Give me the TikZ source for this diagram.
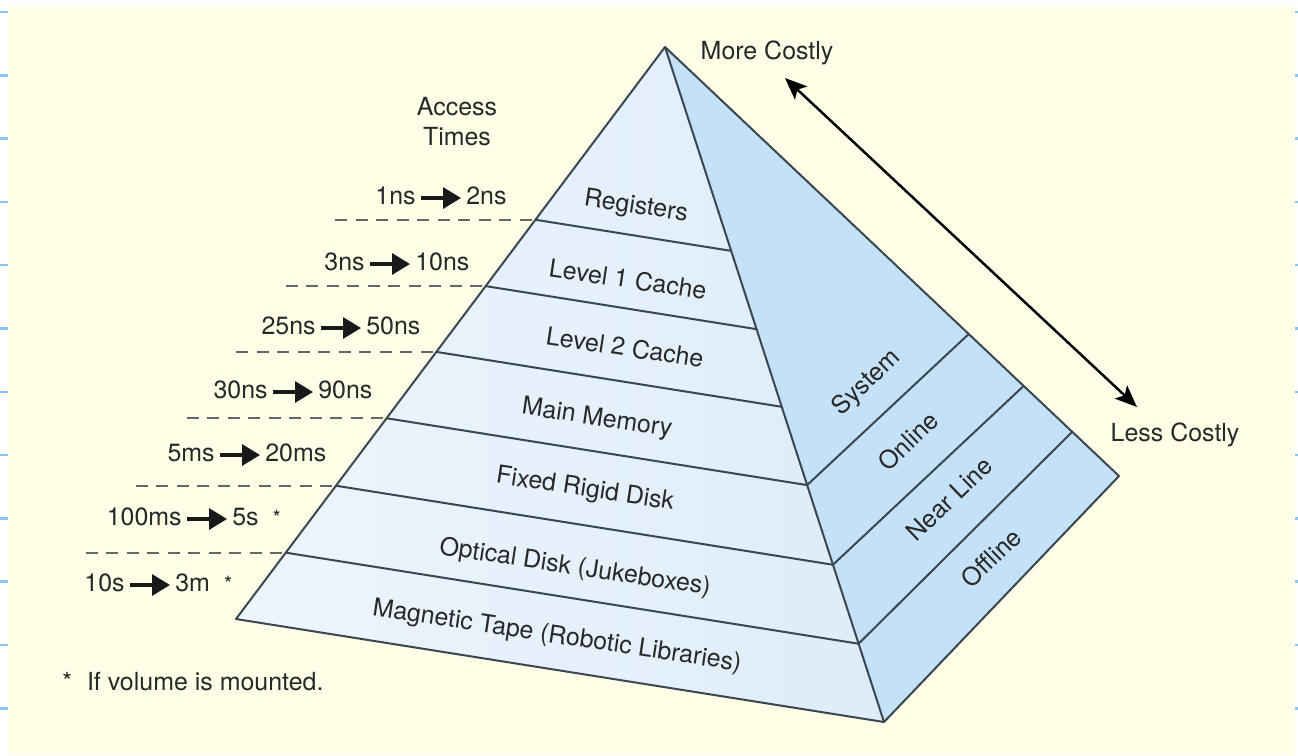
\documentclass[tikz,border=0pt]{standalone}
\usepackage{fontspec}
\setmainfont{TeX Gyre Heros}
\usetikzlibrary{arrows.meta, positioning, calc}
\definecolor{paper}{RGB}{255,255,232}
\definecolor{ruler}{RGB}{142,196,245}
\definecolor{frontlight}{RGB}{238,245,252}
\definecolor{frontdark}{RGB}{222,236,249}
\definecolor{sideface}{RGB}{196,225,248}
\definecolor{ridge}{RGB}{58,70,80}
\definecolor{ink}{RGB}{40,40,40}
\newcommand{\mnt}{\hspace{0.28cm}{\fontsize{12pt}{14pt}\selectfont *}}
\tikzset{
    txt/.style={font=\fontsize{14.2pt}{17pt}\selectfont, text=ink},
    tier/.style={txt, inner sep=0pt, rotate=-8.6},
    store/.style={txt, inner sep=0pt, rotate=44},
    acc/.style={txt, inner xsep=0.1cm, inner ysep=0pt, text height=0.72em, text depth=0pt},
    ridgeline/.style={draw=ridge, line width=0.04cm, line join=round},
    dashline/.style={draw=black!60, line width=0.04cm, dash pattern=on 0.24cm off 0.17cm},
    accarrow/.style={line width=0.065cm, black!90, -{Triangle[length=0.36cm, width=0.42cm]}},
    costarrow/.style={line width=0.05cm, black,
        {Stealth[length=0.44cm, width=0.36cm, inset=0.1cm]}-{Stealth[length=0.44cm, width=0.36cm, inset=0.1cm]}},
    ruletick/.style={draw=ruler, line width=0.05cm}
}

\begin{document}
\begin{tikzpicture}[x=0.02cm, y=-0.02cm]
    \useasboundingbox (0,0) rectangle (1298,755);
    % paper with ruled margin ticks
    \fill[white] (0,0) rectangle (1298,755);
    \fill[paper] (8,7) rectangle (1295,755);
    \foreach \k in {0,...,11} {
        \draw[ruletick] (0,{12+63.3*\k}) -- (8,{12+63.3*\k});
        \draw[ruletick] (1295,{12+63.3*\k}) -- (1298,{12+63.3*\k});
    }

    % pyramid corners
    \coordinate (apex) at (665,47);
    \coordinate (baseL) at (236,619);
    \coordinate (baseF) at (884,722);
    \coordinate (baseR) at (1119,476);

    \shade[left color=frontlight, right color=frontdark] (apex) -- (baseL) -- (baseF) -- cycle;
    \fill[sideface] (apex) -- (baseF) -- (baseR) -- cycle;

    % front bands and access time guides
    \foreach \t [count=\i] in {0.302,0.418,0.533,0.649,0.767,0.884} {
        \coordinate (fl\i) at ($(apex)!\t!(baseL)$);
        \coordinate (fr\i) at ($(apex)!\t!(baseF)$);
        \coordinate (gd\i) at ($(fl\i)+(-200,0)$);
        \draw[ridgeline] (fl\i) -- (fr\i);
        \draw[dashline] (gd\i) -- (fl\i);
    }
    % side bands
    \foreach \s/\u [count=\i] in {0.649/0.669, 0.767/0.790, 0.884/0.897} {
        \coordinate (sl\i) at ($(apex)!\s!(baseF)$);
        \coordinate (sr\i) at ($(apex)!\u!(baseR)$);
        \draw[ridgeline] (sl\i) -- (sr\i);
    }
    \draw[ridgeline] (apex) -- (baseL) -- (baseF) -- (baseR) -- cycle;
    \draw[ridgeline] (apex) -- (baseF);

    % tiers
    \node[tier] (reg) at (636,207) {Registers};
    \node[tier] (lone) at (628,279) {Level 1 Cache};
    \node[tier] (ltwo) at (625,347) {Level 2 Cache};
    \node[tier] (mem) at (597,419) {Main Memory};
    \node[tier] (disk) at (585,490) {Fixed Rigid Disk};
    \node[tier] (optic) at (575,568) {Optical Disk (Jukeboxes)};
    \node[tier] (tape) at (557,637) {Magnetic Tape (Robotic Libraries)};

    \node[store] (sys) at (867,383) {System};
    \node[store] (onl) at (908,441) {Online};
    \node[store] (near) at (949,499) {Near Line};
    \node[store] (offl) at (991,558) {Offline};

    % cost
    \node[txt] (more) at (767,53) {More Costly};
    \node[txt] (less) at (1175,435) {Less Costly};
    \coordinate (costtop) at (785,78);
    \coordinate (costbot) at (1137,407);
    \draw[costarrow] (costtop) -- (costbot);

    % access times
    \node[txt, align=center] (acchead) at (457,122) {Access\\Times};
    \foreach \cx/\cy/\lo/\hi [count=\i] in {441/198/1ns/2ns, 390/264/3ns/10ns,
        341/328/25ns/50ns, 293/392/30ns/90ns, 240/455/5ms/20ms,
        207/519/100ms/5s\mnt, 150/585/10s/3m\mnt} {
        \coordinate (mid\i) at (\cx,\cy);
        \node[acc, anchor=east] (lo\i) at ($(mid\i)+(-20,0)$) {\lo};
        \node[acc, anchor=west] (hi\i) at ($(mid\i)+(20,0)$) {\hi};
        \draw[accarrow] (lo\i.east) -- (hi\i.west);
    }

    \node[txt, anchor=west, inner sep=0pt] (note) at (62,682) {*\hspace{0.3cm}If volume is mounted.};
\end{tikzpicture}
\end{document}
